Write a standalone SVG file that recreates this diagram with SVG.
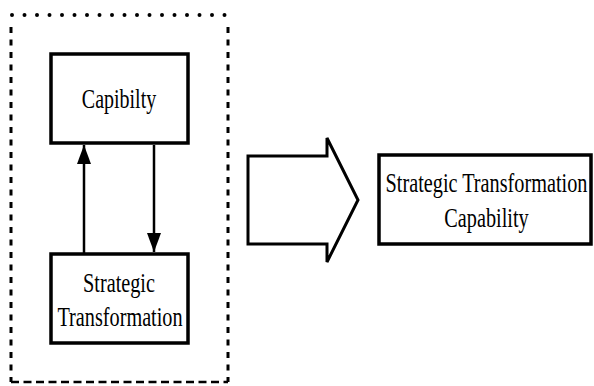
<svg xmlns="http://www.w3.org/2000/svg" width="594" height="386" viewBox="0 0 594 386">
<style>
.box{fill:#fff;stroke:#000;stroke-width:3.5}
.lbl{font-family:"Liberation Serif","Times New Roman",serif;font-size:27px;fill:#000;text-anchor:middle}
.con{stroke:#000;stroke-width:2.5;fill:none}
</style>
<defs>
<marker id="ah" markerWidth="19" markerHeight="14" refX="19" refY="7" orient="auto" markerUnits="userSpaceOnUse" viewBox="0 0 19 14">
<path d="M0,0 L19,7 L0,14 Z" fill="#000"/>
</marker>
</defs>
<rect width="594" height="386" fill="#fff"/>
<g id="frame" fill="none" stroke="#000">
<line x1="12" y1="15" x2="228" y2="15" stroke-width="4" stroke-linecap="round" stroke-dasharray="0 12.5"/>
<line x1="11" y1="27" x2="11" y2="382" stroke-width="3" stroke-dasharray="6 6.5"/>
<line x1="228" y1="27" x2="228" y2="382" stroke-width="3" stroke-dasharray="6 6.5"/>
<line x1="11" y1="382" x2="228" y2="382" stroke-width="2.5" stroke-dasharray="8 4.5"/>
</g>
<g id="connectors">
<line class="con" x1="84" y1="253" x2="84" y2="145" marker-end="url(#ah)"/>
<line class="con" x1="154" y1="145" x2="154" y2="252" marker-end="url(#ah)"/>
</g>
<g id="capibilty">
<rect class="box" x="51" y="54" width="137" height="89"/>
<text class="lbl" transform="translate(119,108) scale(0.74,1)">Capibilty</text>
</g>
<g id="strategic-transformation">
<rect class="box" x="51" y="254" width="137" height="89"/>
<text class="lbl" transform="translate(119,292) scale(0.75,1)">Strategic</text>
<text class="lbl" transform="translate(120,326) scale(0.75,1)">Transformation</text>
</g>
<g id="big-arrow">
<path d="M248,156 L327,156 L327,138 L358,200 L327,262 L327,244 L248,244 Z" fill="#fff" stroke="#000" stroke-width="3" stroke-linejoin="miter"/>
</g>
<g id="result">
<rect class="box" x="379" y="155" width="212" height="89"/>
<text class="lbl" transform="translate(486.5,192) scale(0.75,1)">Strategic Transformation</text>
<text class="lbl" transform="translate(486.5,227) scale(0.75,1)">Capability</text>
</g>
</svg>
